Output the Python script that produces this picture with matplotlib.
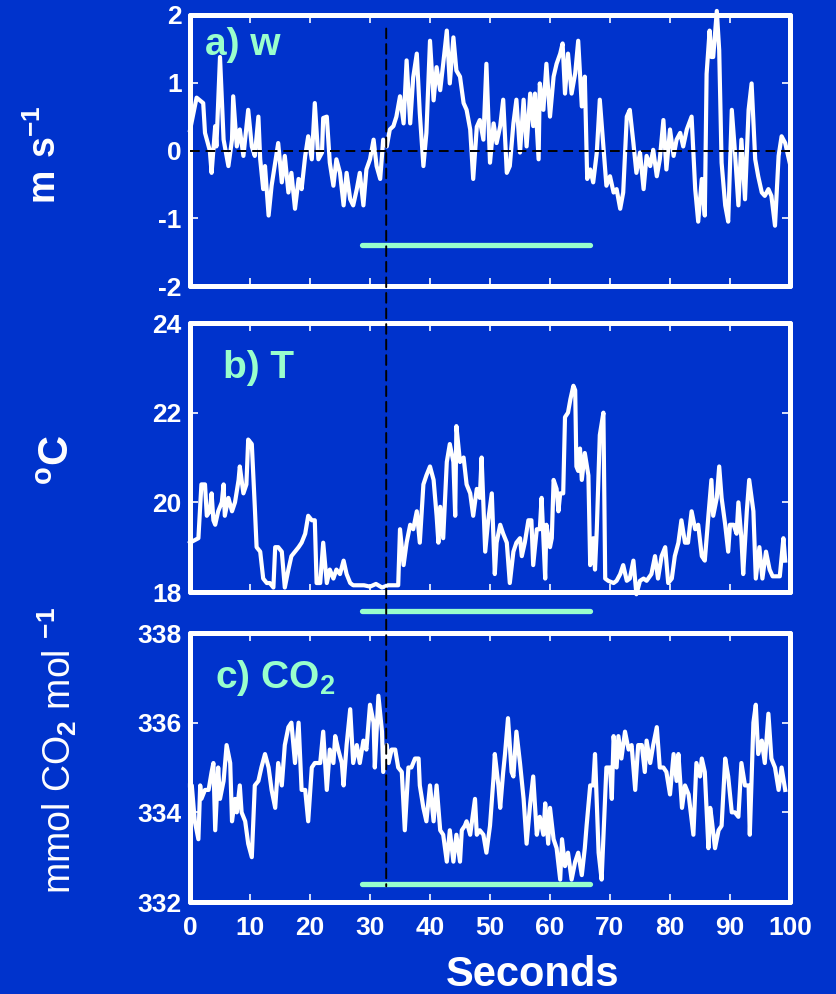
import numpy as np
import matplotlib
matplotlib.use("Agg")
import matplotlib.pyplot as plt
from matplotlib.patches import ConnectionPatch

plt.rcParams['font.family'] = ['Liberation Sans', 'DejaVu Sans']
plt.rcParams['font.weight'] = 'bold'
plt.rcParams['axes.unicode_minus'] = False
plt.rcParams['mathtext.fontset'] = 'custom'
plt.rcParams['mathtext.rm'] = 'Liberation Sans'
plt.rcParams['mathtext.bf'] = 'Liberation Sans:bold'

BG = '#0033cc'
MINT = '#99ffcc'

# a) vertical wind speed w (m/s)
w_t = [0.0, 1.1, 2.2, 2.5, 3.3, 3.6, 4.2, 4.4, 5.0, 5.6, 6.4, 7.0, 7.2, 7.8, 8.3, 8.9, 9.7, 10.3,
       10.8, 11.4, 11.7, 12.2, 12.5, 13.1, 13.6, 14.2, 14.7, 15.3, 15.8, 16.4, 16.9, 17.5, 18.1,
       18.6, 19.2, 19.7, 20.3, 20.8, 21.4, 22.0, 22.2, 22.8, 23.3, 23.9, 24.4, 25.0, 25.6, 26.1,
       26.7, 27.2, 27.8, 28.3, 28.9, 29.4, 30.0, 30.6, 31.1, 31.7, 32.2, 32.8, 33.3, 33.9, 34.4,
       35.0, 35.6, 36.1, 36.7, 37.2, 37.8, 38.3, 38.9, 39.4, 40.0, 40.6, 41.1, 41.7, 42.2, 42.8,
       43.3, 43.9, 44.4, 45.0, 45.6, 46.1, 46.7, 47.2, 47.8, 48.3, 48.9, 49.4, 50.0, 50.6, 51.1,
       51.7, 52.2, 52.8, 53.3, 53.9, 54.4, 55.0, 55.6, 56.1, 56.7, 57.2, 57.5, 58.1, 58.3, 58.9,
       59.4, 60.0, 60.6, 61.1, 61.7, 62.1, 62.5, 63.0, 63.6, 64.2, 64.7, 65.3, 65.8, 66.2, 66.7,
       67.2, 67.8, 68.3, 68.9, 69.4, 70.0, 70.6, 71.1, 71.7, 72.2, 72.8, 73.3, 73.9, 74.4, 75.0,
       75.6, 76.1, 76.7, 77.2, 77.8, 78.3, 78.9, 79.4, 80.0, 80.6, 81.1, 81.7, 82.2, 82.8, 83.6,
       84.2, 84.7, 85.3, 85.8, 86.1, 86.6, 86.9, 87.2, 87.8, 88.2, 88.6, 89.2, 89.7, 90.3, 90.8,
       91.4, 91.9, 92.5, 93.1, 93.6, 94.2, 94.7, 95.3, 95.8, 96.4, 96.9, 97.5, 98.1, 98.6, 99.2,
       100.0]
w_v = [0.3, 0.78, 0.7, 0.26, 0.0, -0.33, 0.36, 0.06, 1.38, 0.16, -0.23, 0.16, 0.80, 0.06, 0.31,
       -0.08, 0.60, 0.06, -0.08, 0.50, -0.13, -0.57, -0.23, -0.96, -0.52, -0.18, 0.11, -0.47,
       -0.08, -0.62, -0.33, -0.86, -0.42, -0.57, -0.08, 0.21, -0.13, 0.70, -0.13, -0.03, 0.48,
       0.50, -0.18, -0.52, -0.13, -0.33, -0.81, -0.33, -0.72, -0.81, -0.57, -0.33, -0.81, -0.28,
       -0.13, 0.16, -0.23, -0.42, 0.16, 0.06, 0.31, 0.36, 0.50, 0.80, 0.40, 1.33, 0.40, 1.08,
       1.43, 0.55, -0.23, 0.26, 1.62, 0.74, 1.23, 0.89, 1.28, 1.77, 0.99, 1.67, 1.18, 1.09, 0.70,
       0.60, 0.31, -0.42, 0.35, 0.45, 0.16, 1.28, -0.18, 0.40, 0.11,
       0.36, 0.75, -0.33, -0.23, 0.40, 0.75, -0.03, 0.75, 0.06, 0.84, 0.36, 0.84, -0.13, 0.99,
       0.60, 1.28, 0.50, 1.09, 1.28, 1.43, 1.58, 0.84, 1.43, 0.84, 1.14, 1.62, 0.65, 1.09, -0.42,
       -0.28, -0.47, -0.03, 0.75, 0.06, -0.52, -0.38, -0.62, -0.57, -0.86, -0.62, 0.50, 0.60,
       0.11, -0.33, -0.03, -0.57, -0.08, -0.23, 0.01, -0.38, -0.13, 0.45, -0.28, 0.31, -0.08,
       0.16, 0.26, 0.06, 0.31, 0.50, -0.57, -1.05, -0.42, -0.96, 1.13, 1.77, 1.38, 1.38, 2.06,
       1.48, -0.18, -0.81, -1.05, 0.60, 0.01, -0.81, 0.16, -0.72, 0.60, 0.99, -0.13, -0.38, -0.62,
       -0.67, -0.57, -0.67, -1.11, -0.08, 0.21, 0.11, -0.2]

# b) air temperature (deg C)
T_t = [0.0, 1.4, 1.9, 2.5, 2.8, 3.3, 3.6, 3.9, 4.2, 4.7, 5.3, 5.6, 5.8, 6.4, 7.0, 7.5, 8.1, 8.3,
       8.9, 9.4, 9.7, 10.3, 10.8, 11.1, 11.7, 12.2, 12.8, 13.3, 13.9, 14.2, 14.7, 15.3, 15.8,
       16.4, 16.9, 17.5, 18.1, 18.6, 19.2, 19.7, 20.3, 20.8, 21.1, 21.7, 22.2, 22.8, 23.3, 23.9,
       24.4, 25.0, 25.6, 26.1, 26.7, 27.2, 28.0, 29.0, 30.0, 31.0, 32.0, 33.0, 34.0, 34.7, 35.0,
       35.6, 36.1, 36.7, 37.2, 37.8, 38.3, 38.9, 39.4, 40.0, 40.6, 41.1, 41.4, 41.7, 42.2, 42.8,
       43.3, 43.9, 44.2, 44.4, 45.0, 45.6, 46.1, 46.7, 47.2, 47.8, 48.3, 48.6, 49.2, 49.7, 50.3,
       50.8, 51.1, 51.7, 52.2, 52.8, 53.3, 53.9, 54.4, 55.0, 55.3, 55.8, 56.4, 56.9, 57.2, 57.8,
       58.3, 58.6, 59.2, 59.4, 60.0, 60.3, 60.6, 61.1, 61.4, 61.7, 62.2, 62.5, 63.0, 63.4, 63.9,
       64.2, 64.4, 64.7, 65.0, 65.3, 65.8, 66.4, 66.7, 67.2, 67.5, 67.8, 68.3, 68.9, 69.2, 69.7,
       70.6, 71.1, 71.7, 72.2, 72.8, 73.3, 73.9, 74.4, 75.0, 75.6, 76.1, 76.9, 77.5, 78.0, 78.6,
       79.2, 79.7, 80.3, 80.8, 81.4, 81.9, 82.5, 83.0, 83.6, 84.2, 84.7, 85.3, 85.8, 86.4, 86.9,
       87.2, 87.8, 88.2, 88.6, 89.2, 89.7, 90.0, 90.6, 91.1, 91.4, 91.9, 92.2, 92.8, 93.2, 93.9,
       94.3, 94.9, 95.4, 96.0, 96.6, 97.1, 97.8, 98.3, 98.9, 99.2]
T_v = [19.1, 19.2, 20.4, 20.4, 19.7, 19.8, 20.2, 19.6, 19.5, 19.8, 20.0, 20.4, 19.7, 20.1, 19.8,
       20.0, 20.5, 20.8, 20.2, 20.4, 21.4, 21.3, 19.9, 19.0, 18.9, 18.3, 18.2, 18.2, 18.1, 19.0,
       19.0, 18.9, 18.1, 18.5, 18.8, 18.9, 19.0, 19.1, 19.3, 19.7, 19.6, 19.6, 18.2, 18.2, 19.1,
       18.2, 18.5, 18.3, 18.5, 18.4, 18.7, 18.4, 18.2, 18.15, 18.15, 18.15, 18.12, 18.18, 18.1,
       18.15, 18.15, 18.15, 19.4, 18.6, 19.1, 19.5, 19.4, 19.8, 19.1, 20.4, 20.6, 20.8, 20.5,
       19.7, 19.1, 19.9, 19.2, 20.9, 21.3, 20.9, 19.7, 21.7, 20.9, 21.0, 20.4, 20.2, 19.7, 20.3,
       20.1, 21.0, 18.9, 19.6, 20.2,
       18.4, 19.1, 19.5, 19.3, 19.1, 18.2, 18.9, 19.1, 19.2, 18.8, 19.1, 19.6, 19.6, 18.6, 19.4,
       19.4, 20.1, 18.3, 19.5, 19.0, 19.2, 20.5, 20.3, 19.8, 20.2, 20.2, 21.9, 22.0, 22.3, 22.6,
       22.5, 20.8, 20.7, 21.2, 20.5, 21.1, 20.6, 18.6, 19.2, 18.5, 19.4, 21.5, 22.0, 18.3, 18.25,
       18.2, 18.25, 18.4, 18.6, 18.25, 18.3, 18.7, 17.95, 18.25, 18.3, 18.25, 18.4, 18.8, 18.3,
       18.8, 19.0, 18.2, 18.3, 18.8, 19.1, 19.6, 19.1, 19.1, 19.8, 19.4, 19.5, 18.8, 18.7, 19.7,
       20.5, 19.7, 20.1, 20.8, 20.1, 19.5, 18.9, 19.5, 19.5, 19.3, 20.0, 19.2, 18.4, 19.8, 20.5,
       19.8, 18.3, 19.0, 18.3, 18.9, 18.5, 18.35, 18.35, 18.35, 19.2, 18.7]

# c) CO2 mixing ratio
c_t = [0.0, 0.3, 0.8, 1.4, 1.7, 1.9, 2.5, 3.1, 3.6, 3.9, 4.2, 4.7, 5.0, 5.6, 6.1, 6.7, 7.0, 7.5,
       7.8, 8.3, 8.6, 9.2, 9.7, 10.3, 10.8, 11.4, 11.9, 12.5, 13.1, 13.6, 14.2, 14.7, 15.3, 15.8,
       16.4, 16.9, 17.5, 18.1, 18.6, 19.2, 19.7, 20.3, 20.8, 21.7, 22.2, 22.8, 23.3, 23.9, 24.2,
       24.7, 25.3, 25.6, 26.1, 26.7, 27.2, 27.8, 28.3, 28.9, 29.4, 30.0, 30.6, 30.8, 31.4, 32.0,
       32.2, 32.8, 33.1, 33.6, 34.2, 34.7, 35.3, 35.8, 36.4, 36.9, 37.5, 38.1, 38.3, 38.9, 39.4,
       40.0, 40.6, 41.1, 41.7, 42.2, 42.8, 43.3, 43.9, 44.4, 45.0, 45.3, 45.8, 46.1, 46.7, 47.5,
       47.8, 48.3, 48.9, 49.4, 50.0, 50.6, 50.8, 51.4, 51.7,
       52.2, 52.5, 53.0, 53.6, 53.9, 54.4, 55.0, 55.6, 56.1, 56.7, 57.2, 57.8, 58.3, 58.9, 59.2,
       59.7, 60.0, 60.6, 61.1, 61.7, 62.0, 62.5, 63.0, 63.6, 64.2, 64.7, 65.3, 65.8, 66.1, 66.7,
       67.2, 67.5, 68.1, 68.6, 69.4, 70.0, 70.3, 70.6, 71.1, 71.4, 71.9, 72.5, 73.1, 73.6, 74.2,
       74.7, 75.3, 75.8, 76.1, 76.7, 77.2, 77.8, 78.3, 78.9, 79.4, 80.0, 80.6, 81.1, 81.4, 82.0,
       82.5, 83.1, 83.9, 84.4, 85.0, 85.3, 85.8, 86.4, 86.7, 86.9, 87.5, 88.1, 88.6, 89.2, 89.7,
       90.3, 90.8, 91.4, 91.9, 92.5, 93.1, 93.3, 93.9, 94.3, 94.7, 95.3, 95.8, 96.4, 96.9, 97.5,
       98.1, 98.6, 99.2]
c_v = [334.6, 334.6, 333.8, 333.4, 334.6, 334.3, 334.5, 334.5, 334.9, 335.1, 333.6, 335.0, 334.3,
       334.7, 335.5, 335.1, 333.8, 334.3, 334.0, 334.6, 334.0, 333.8, 333.3, 333.0, 334.6, 334.7,
       335.0, 335.3, 335.0, 334.5, 334.1, 335.1, 334.6, 335.5, 335.9, 336.0, 335.1, 336.0, 334.5,
       334.5, 333.8, 335.0, 335.1, 335.1, 335.8, 334.5, 335.4, 335.1, 335.7, 335.4, 335.1, 334.6,
       335.5, 336.3, 335.1, 335.5, 335.1, 335.6, 335.4, 336.4, 336.0, 335.0, 336.6, 335.8, 334.9,
       335.5, 335.1, 335.4, 335.4, 335.0, 334.9, 333.6, 335.0, 335.0, 335.2, 335.2, 334.6, 334.1,
       333.8, 334.6, 333.8, 334.6, 333.6, 333.5, 332.9, 333.6, 332.9, 333.5, 332.9, 333.6, 333.7,
       333.8, 333.5, 334.3, 333.5, 333.6, 333.5, 333.1, 333.7, 334.8, 335.3, 334.6, 334.1,
       334.9, 335.3, 336.1, 334.9, 334.8, 335.8, 335.1, 334.3, 333.3, 334.2, 334.8, 333.5, 333.9,
       333.5, 334.2, 333.3, 334.1, 333.4, 333.2, 332.5, 333.4, 332.8, 333.1, 332.5, 332.9, 333.1,
       332.6, 333.2, 333.7, 334.6, 334.6, 335.3, 333.1, 332.5, 335.0, 335.0, 334.3, 335.7, 335.0,
       335.7, 335.2, 335.8, 335.4, 335.5, 334.5, 335.5, 335.5, 334.9, 335.6, 335.1, 335.5, 335.9,
       335.0, 335.0, 334.9, 334.4, 335.3, 334.7, 335.3, 334.1, 334.6, 334.4, 333.5, 335.1, 334.8,
       335.2, 334.9, 333.2, 334.1, 333.9, 333.2, 333.6, 333.7, 335.2, 334.8, 334.0, 334.0, 333.9,
       335.1, 334.6, 334.6, 333.5, 336.0, 336.4, 335.3, 335.6, 335.1, 336.2, 335.2, 335.0, 334.5,
       335.0, 334.5]

panel_labels = ['a) w', 'b) T', r'c) CO$_\mathbf{2}$']
y_ticks = [[-2, -1, 0, 1, 2], [18, 20, 22, 24], [332, 334, 336, 338]]
x_ticks = list(range(0, 101, 10))
event_start, event_end = 28.6, 66.7   # green bar
event_line = 32.7                      # dashed marker
bar_levels = [-1.4, 17.58, 332.4]

fig = plt.figure(figsize=(8.37, 9.94), dpi=100, facecolor=BG)
left, width = 190 / 837, 600 / 837
boxes = [(286, 271), (592, 269), (902, 269)]
series = [(w_t, w_v), (T_t, T_v), (c_t, c_v)]
label_pos = [(0.025, 0.889), (0.055, 0.833), (0.042, 0.833)]

axes = []
for i, ((bot, h), (t, v)) in enumerate(zip(boxes, series)):
    assert len(t) == len(v), (i, len(t), len(v))
    ax = fig.add_axes([left, 1 - bot / 994, width, h / 994])
    ax.set_facecolor(BG)
    ax.plot(t, v, color='white', lw=3.0, clip_on=False, zorder=2)
    ax.plot([event_start, event_end], [bar_levels[i]] * 2, color=MINT, lw=3.8,
            solid_capstyle='round', clip_on=False, zorder=2)
    ax.set_xlim(0, 100)
    ax.set_ylim(y_ticks[i][0], y_ticks[i][-1])
    ax.set_yticks(y_ticks[i])
    ax.set_xticks(x_ticks)
    ax.tick_params(direction='in', length=6, width=1.2, color='white', labelcolor='white',
                   top=True, right=True, labelsize=19, pad=6)
    ax.tick_params(axis='x', pad=10)
    if i < 2:
        ax.tick_params(labelbottom=False)
    for sp in ax.spines.values():
        sp.set_color('white')
        sp.set_linewidth(3.6)
        sp.set_joinstyle('round')
        sp.set_capstyle('round')
    ax.text(label_pos[i][0], label_pos[i][1], panel_labels[i], transform=ax.transAxes,
            color=MINT, fontsize=28, fontweight='bold', ha='left', va='center')
    axes.append(ax)

axes[0].axhline(0, color='black', lw=1.4, ls=(0, (5, 3)), zorder=3)

con = ConnectionPatch(xyA=(event_line, 1.8), coordsA='data', axesA=axes[0],
                      xyB=(event_line, 332.35), coordsB='data', axesB=axes[2],
                      color='black', lw=1.4, ls=(0, (5, 3)), zorder=5)
fig.add_artist(con)

fig.text(533 / 837, 1 - 975 / 994, 'Seconds', color='white', fontsize=30,
         fontweight='bold', ha='center', va='center')
fig.text(45 / 837, 1 - 155 / 994, r'$\mathbf{m\ s^{-1}}$', color='white', fontsize=27,
         rotation=90, ha='center', va='center')
fig.text(58 / 837, 1 - 460 / 994, r'$\mathbf{^oC}$', color='white', fontsize=30,
         rotation=90, ha='center', va='center')
fig.text(57 / 837, 1 - 750 / 994, r'mmol CO$_2$ mol $^{-1}$', color='white', fontsize=27,
         fontweight='normal', rotation=90, ha='center', va='center')

fig.savefig('out.png', dpi=100, facecolor=BG)
